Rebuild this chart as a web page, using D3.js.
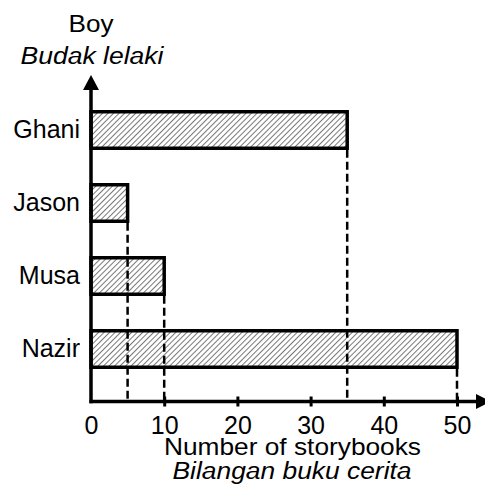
<!DOCTYPE html>
<html>
<head>
<meta charset="utf-8">
<script src="https://cdn.jsdelivr.net/npm/d3@7"></script>
<style>
  html, body { margin: 0; padding: 0; background: #fff; }
  svg { display: block; }
  text { font-family: "Liberation Sans", Arial, Helvetica, sans-serif; fill: #000; }
</style>
</head>
<body>
<script>
const boys = ["Ghani", "Jason", "Musa", "Nazir"];
const books = [35, 5, 10, 50];
const xTicks = [0, 10, 20, 30, 40, 50];
const yTitle = ["Boy", "Budak lelaki"];
const xTitle = ["Number of storybooks", "Bilangan buku cerita"];

const W = 485, H = 484;
const svg = d3.select("body").append("svg").attr("width", W).attr("height", H);

const x = d3.scaleLinear().domain([0, 50]).range([91, 457]);
const y = d3.scaleBand().domain(boys).range([93.5, 385.5]).paddingInner(0.5).paddingOuter(0.25);
const axisY = 401.5;
const data = boys.map((b, i) => ({ boy: b, v: books[i] }));

// hatch pattern
const defs = svg.append("defs");
const pat = defs.append("pattern")
  .attr("id", "hatch")
  .attr("patternUnits", "userSpaceOnUse")
  .attr("width", 3.9).attr("height", 3.9)
  .attr("patternTransform", "rotate(45)");
pat.append("rect").attr("width", 3.9).attr("height", 3.9).attr("fill", "#fff");
pat.append("line").attr("x1", 0.5).attr("y1", 0).attr("x2", 0.5).attr("y2", 3.9)
  .attr("stroke", "#777").attr("stroke-width", 1);

// bars
svg.append("g").selectAll("rect").data(data).join("rect")
  .attr("x", x(0))
  .attr("y", d => y(d.boy))
  .attr("width", d => x(d.v) - x(0))
  .attr("height", y.bandwidth())
  .attr("fill", "url(#hatch)")
  .attr("stroke", "#000")
  .attr("stroke-width", 3.5);

// dashed guide lines
svg.append("g").selectAll("line").data(data).join("line")
  .attr("x1", d => x(d.v)).attr("x2", d => x(d.v))
  .attr("y1", d => y(d.boy) + y.bandwidth() + 1.5)
  .attr("y2", axisY)
  .attr("stroke", "#000")
  .attr("stroke-width", 2.5)
  .attr("stroke-dasharray", "8,4");

// x axis
const gx = svg.append("g").attr("transform", `translate(0,${axisY})`)
  .call(d3.axisBottom(x).tickValues(xTicks).tickFormat(d3.format("d")).tickSizeOuter(0));
gx.select(".domain").remove();
gx.selectAll(".tick line")
  .attr("y1", -5).attr("y2", 5)
  .attr("stroke", "#000").attr("stroke-width", 3)
  .attr("display", d => d === 0 ? "none" : null);
gx.selectAll(".tick text")
  .attr("y", 32).attr("dy", null)
  .attr("font-size", 25)
  .attr("font-family", "Liberation Sans, Arial, sans-serif")
  .attr("fill", "#000");

svg.append("line")
  .attr("x1", x(0) - 1.5).attr("x2", 477)
  .attr("y1", axisY).attr("y2", axisY)
  .attr("stroke", "#000").attr("stroke-width", 3.5);
svg.append("path")
  .attr("d", `M476,${axisY - 7.5} L491,${axisY} L476,${axisY + 7.5} Z`)
  .attr("fill", "#000");

// y axis
const gy = svg.append("g").attr("transform", `translate(${x(0)},0)`)
  .call(d3.axisLeft(y).tickSize(0).tickPadding(11));
gy.select(".domain").remove();
gy.selectAll(".tick text")
  .attr("dy", "0.32em")
  .attr("font-size", 25)
  .attr("font-family", "Liberation Sans, Arial, sans-serif")
  .attr("fill", "#000");

svg.append("line")
  .attr("x1", x(0)).attr("x2", x(0))
  .attr("y1", axisY + 1.75).attr("y2", 89)
  .attr("stroke", "#000").attr("stroke-width", 3.5);
svg.append("path")
  .attr("d", `M${x(0) - 8},90 L${x(0)},75 L${x(0) + 8},90 Z`)
  .attr("fill", "#000");

// titles
svg.append("text").attr("x", 91).attr("y", 32).attr("text-anchor", "middle")
  .attr("font-size", 24).attr("textLength", 45).attr("lengthAdjust", "spacingAndGlyphs")
  .text(yTitle[0]);
svg.append("text").attr("x", 92).attr("y", 63.5).attr("text-anchor", "middle")
  .attr("font-size", 23).attr("font-style", "italic")
  .attr("textLength", 143).attr("lengthAdjust", "spacingAndGlyphs")
  .text(yTitle[1]);
svg.append("text").attr("x", 292.5).attr("y", 454.5).attr("text-anchor", "middle")
  .attr("font-size", 24.5)
  .attr("textLength", 257).attr("lengthAdjust", "spacingAndGlyphs")
  .text(xTitle[0]);
svg.append("text").attr("x", 292).attr("y", 479).attr("text-anchor", "middle")
  .attr("font-size", 23.5).attr("font-style", "italic")
  .attr("textLength", 239).attr("lengthAdjust", "spacingAndGlyphs")
  .text(xTitle[1]);
</script>
</body>
</html>
